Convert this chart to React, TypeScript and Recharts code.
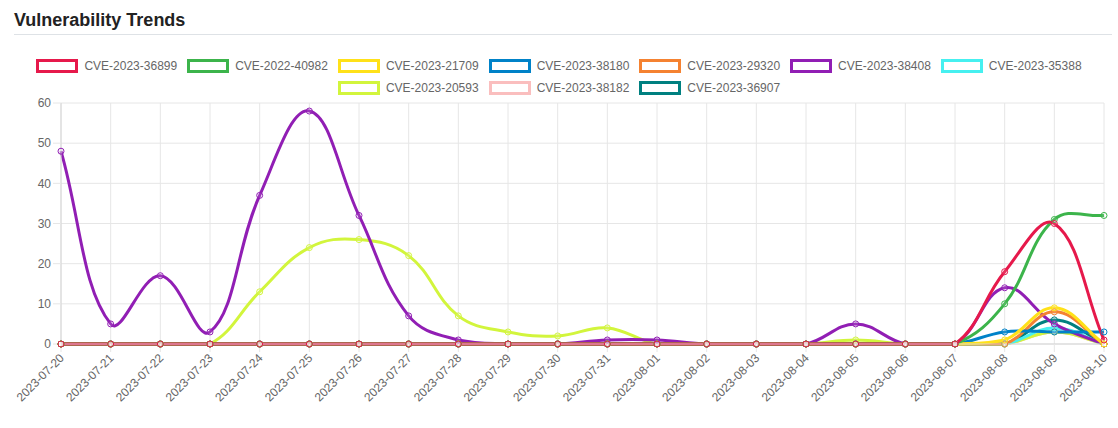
import React from 'react';
import { LineChart, Line, XAxis, YAxis, CartesianGrid } from 'recharts';

// ---------- data ----------
const dates = [
  '2023-07-20', '2023-07-21', '2023-07-22', '2023-07-23', '2023-07-24', '2023-07-25',
  '2023-07-26', '2023-07-27', '2023-07-28', '2023-07-29', '2023-07-30', '2023-07-31',
  '2023-08-01', '2023-08-02', '2023-08-03', '2023-08-04', '2023-08-05', '2023-08-06',
  '2023-08-07', '2023-08-08', '2023-08-09', '2023-08-10',
];
const yTicks = [0, 10, 20, 30, 40, 50, 60];

const cve2023_36899 = [0, 0, 0, 0, 0, 0, 0, 0, 0, 0, 0, 0, 0, 0, 0, 0, 0, 0, 0, 18, 30, 1];
const cve2022_40982 = [0, 0, 0, 0, 0, 0, 0, 0, 0, 0, 0, 0, 0, 0, 0, 0, 0, 0, 0, 10, 31, 32];
const cve2023_21709 = [0, 0, 0, 0, 0, 0, 0, 0, 0, 0, 0, 0, 0, 0, 0, 0, 0, 0, 0, 1, 9, 0];
const cve2023_38180 = [0, 0, 0, 0, 0, 0, 0, 0, 0, 0, 0, 0, 0, 0, 0, 0, 0, 0, 0, 3, 3, 3];
const cve2023_29320 = [0, 0, 0, 0, 0, 0, 0, 0, 0, 0, 0, 0, 0, 0, 0, 0, 0, 0, 0, 0, 8, 0];
const cve2023_38408 = [48, 5, 17, 3, 37, 58, 32, 7, 1, 0, 0, 1, 1, 0, 0, 0, 5, 0, 0, 14, 5, 0];
const cve2023_35388 = [0, 0, 0, 0, 0, 0, 0, 0, 0, 0, 0, 0, 0, 0, 0, 0, 0, 0, 0, 0, 4, 0];
const cve2023_20593 = [0, 0, 0, 0, 13, 24, 26, 22, 7, 3, 2, 4, 0, 0, 0, 0, 1, 0, 0, 0, 3, 0];
const cve2023_38182 = [0, 0, 0, 0, 0, 0, 0, 0, 0, 0, 0, 0, 0, 0, 0, 0, 0, 0, 0, 0, 3, 0];
const cve2023_36907 = [0, 0, 0, 0, 0, 0, 0, 0, 0, 0, 0, 0, 0, 0, 0, 0, 0, 0, 0, 0, 6, 0];

const seriesNames = [
  'CVE-2023-36899', 'CVE-2022-40982', 'CVE-2023-21709', 'CVE-2023-38180', 'CVE-2023-29320',
  'CVE-2023-38408', 'CVE-2023-35388', 'CVE-2023-20593', 'CVE-2023-38182', 'CVE-2023-36907',
];
const seriesValues = [
  cve2023_36899, cve2022_40982, cve2023_21709, cve2023_38180, cve2023_29320,
  cve2023_38408, cve2023_35388, cve2023_20593, cve2023_38182, cve2023_36907,
];
const seriesColors = [
  '#e6194b', '#3cb44b', '#ffe119', '#0082c8', '#f58231',
  '#911eb4', '#46f0f0', '#d2f53c', '#fabebe', '#008080',
];

const data = dates.map((d, i) => {
  const row: Record<string, any> = { date: d };
  seriesNames.forEach((n, k) => { row[n] = seriesValues[k][i]; });
  return row;
});

// ---------- layout ----------
const FONT = '"Liberation Sans", Arial, Helvetica, sans-serif';
const W = 1118;
const H = 428;
const M_TOP = 103;
const M_RIGHT = 14;
const Y_W = 61;
const X_H = 84;
const PLOT = { left: Y_W, right: W - M_RIGHT, top: M_TOP, bottom: H - X_H };
const TENSION = 0.4;
const GRID = '#e6e6e6';

// Chart.js-like cardinal spline (tension 0.4, control points capped to plot area)
function chartJsSpline(context: any) {
  let px: number[] = [];
  let py: number[] = [];
  const cx = (v: number) => Math.max(PLOT.left, Math.min(PLOT.right, v));
  const cy = (v: number) => Math.max(PLOT.top, Math.min(PLOT.bottom, v));
  return {
    areaStart() {},
    areaEnd() {},
    lineStart() { px = []; py = []; },
    point(x: any, y: any) { px.push(+x); py.push(+y); },
    lineEnd() {
      const n = px.length;
      if (!n) return;
      const cpPrev: number[][] = [];
      const cpNext: number[][] = [];
      for (let i = 0; i < n; i++) {
        const pi = i > 0 ? i - 1 : i;
        const ni = i < n - 1 ? i + 1 : i;
        const d01 = Math.hypot(px[i] - px[pi], py[i] - py[pi]);
        const d12 = Math.hypot(px[ni] - px[i], py[ni] - py[i]);
        let s01 = d01 / (d01 + d12);
        let s12 = d12 / (d01 + d12);
        if (!isFinite(s01)) s01 = 0;
        if (!isFinite(s12)) s12 = 0;
        const fa = TENSION * s01;
        const fb = TENSION * s12;
        const dx = px[ni] - px[pi];
        const dy = py[ni] - py[pi];
        cpPrev.push([cx(px[i] - fa * dx), cy(py[i] - fa * dy)]);
        cpNext.push([cx(px[i] + fb * dx), cy(py[i] + fb * dy)]);
      }
      context.moveTo(px[0], py[0]);
      for (let i = 1; i < n; i++) {
        context.bezierCurveTo(cpNext[i - 1][0], cpNext[i - 1][1], cpPrev[i][0], cpPrev[i][1], px[i], py[i]);
      }
    },
  };
}

const XTick = (props: any) => {
  const { x, y, payload } = props;
  return (
    <g transform={`translate(${x + 1},${y + 3})`}>
      <text x={0} y={0} dy={4} textAnchor="end" fill="#666" fontSize={12} fontFamily={FONT} transform="rotate(-45)">
        {payload.value}
      </text>
    </g>
  );
};

const LegendItem = ({ name, color }: { name: string; color: string }) => (
  <div style={{ display: 'flex', alignItems: 'center', marginRight: 10 }}>
    <div style={{ width: 36, height: 8, border: `3px solid ${color}`, background: '#fff' }} />
    <span style={{ marginLeft: 6, fontSize: 12, color: '#666', fontFamily: FONT, whiteSpace: 'nowrap' }}>{name}</span>
  </div>
);

export default function App() {
  const order = seriesNames.map((_, i) => i).reverse();
  const row1 = seriesNames.slice(0, 7);
  const row2 = seriesNames.slice(7);
  return (
    <div style={{ position: 'absolute', left: 0, top: 0, width: W, height: H, background: '#fff', fontFamily: FONT }}>
      <div style={{ position: 'absolute', left: 14, top: 10, fontSize: 18, lineHeight: '20px', fontWeight: 'bold', color: '#222' }}>
        Vulnerability Trends
      </div>
      <div style={{ position: 'absolute', left: 14, top: 34, width: 1098, height: 1, background: '#dee2e6' }} />
      <div style={{ position: 'absolute', left: 0, top: 0 }}>
        <LineChart width={W} height={H} data={data} margin={{ top: M_TOP, right: M_RIGHT, left: 0, bottom: 0 }}>
          <CartesianGrid stroke={GRID} vertical horizontal />
          <XAxis
            dataKey="date"
            height={X_H}
            interval={0}
            tickSize={8}
            tickMargin={1}
            tickLine={{ stroke: GRID }}
            axisLine={{ stroke: '#d5d5d5' }}
            tick={<XTick />}
          />
          <YAxis
            width={Y_W}
            domain={[0, 60]}
            ticks={yTicks}
            interval={0}
            tickSize={8}
            tickMargin={2}
            tickLine={{ stroke: GRID }}
            axisLine={{ stroke: '#d5d5d5' }}
            tick={{ fill: '#666', fontSize: 12, fontFamily: FONT }}
          />
          {order.map((i) => (
            <Line
              key={seriesNames[i]}
              dataKey={seriesNames[i]}
              type={chartJsSpline as any}
              stroke={seriesColors[i]}
              strokeWidth={3}
              dot={{ r: 3, strokeWidth: 1, stroke: seriesColors[i], fill: 'rgba(255,255,255,0.1)' }}
              activeDot={false}
              isAnimationActive={false}
            />
          ))}
        </LineChart>
      </div>
      <div style={{ position: 'absolute', left: 5, top: 55, width: W }}>
        <div style={{ display: 'flex', justifyContent: 'center', height: 22, alignItems: 'center' }}>
          {row1.map((n) => <LegendItem key={n} name={n} color={seriesColors[seriesNames.indexOf(n)]} />)}
        </div>
        <div style={{ display: 'flex', justifyContent: 'center', height: 22, alignItems: 'center' }}>
          {row2.map((n) => <LegendItem key={n} name={n} color={seriesColors[seriesNames.indexOf(n)]} />)}
        </div>
      </div>
    </div>
  );
}
